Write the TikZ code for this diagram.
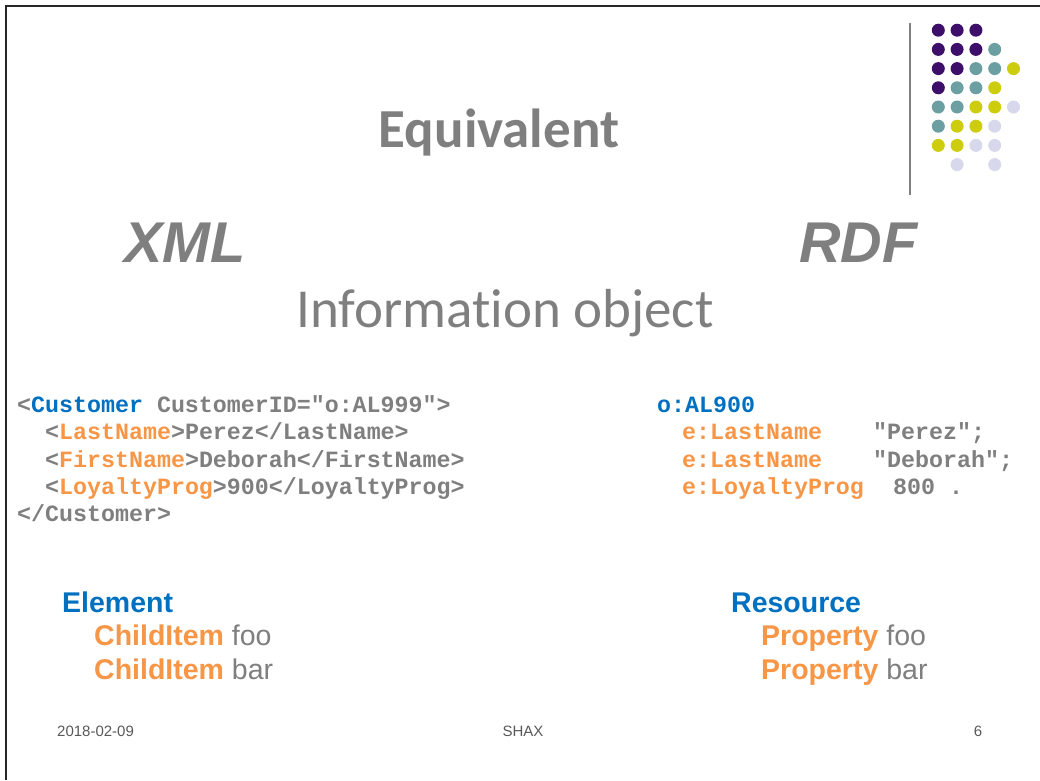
\documentclass[tikz,border=0pt]{standalone}
\usepackage{fontspec}
\setmainfont{Liberation Sans}
\setmonofont{Liberation Mono}
\newfontfamily\calibri[Ligatures={NoCommon}]{Carlito}

\definecolor{txtgrey}{HTML}{7F7F7F}
\definecolor{footgrey}{HTML}{595959}
\definecolor{keyblue}{HTML}{0070C0}
\definecolor{keyorange}{HTML}{F79646}
\definecolor{dotpurple}{HTML}{3D0F6B}
\definecolor{dotteal}{HTML}{6C9FA2}
\definecolor{dotyellow}{HTML}{CDCD0E}
\definecolor{dotlilac}{HTML}{D8D8EC}

\newcommand{\bl}[1]{\textcolor{keyblue}{#1}}
\newcommand{\og}[1]{\textcolor{keyorange}{#1}}

\begin{document}
\begin{tikzpicture}[x=1pt,y=-1pt,
  lbl/.style={inner sep=0pt, anchor=base west, text=txtgrey},
  headline/.style={lbl, anchor=base, font=\calibri\fontsize{55}{60}\selectfont},
  biglabel/.style={lbl, font=\bfseries\itshape\fontsize{57.5}{62}\selectfont},
  codeline/.style={lbl, font=\ttfamily\bfseries\fontsize{23.3}{27}\selectfont},
  termline/.style={lbl, font=\bfseries\fontsize{28.5}{32}\selectfont},
  footer/.style={inner sep=0pt, anchor=base, text=footgrey, font=\fontsize{15}{18}\selectfont},
  dot/.style={circle, inner sep=0pt, minimum size=13pt},
  rule/.style={line width=2.5pt, black!85}]

\useasboundingbox (0,0) rectangle (1040,780);
\fill[white] (0,0) rectangle (1040,780);

% slide frame (top and left edges)
\draw[rule] (1040,6) -- (6,6) -- (6,780);

% logo: separator line and dot grid
\draw[line width=2pt, gray] (910,23) -- (910,195);
\foreach \row [count=\r] in {{P,P,P,N,N},{P,P,P,T,N},{P,P,T,T,Y},{P,T,T,Y,N},
                             {T,T,Y,Y,L},{T,Y,Y,L,N},{Y,Y,L,L,N},{N,L,N,L,N}}{
  \foreach \k [count=\c] in \row {
    \pgfmathsetmacro{\cx}{919.5+18.8*\c}
    \pgfmathsetmacro{\cy}{11+19.2*\r}
    \if\k P\node[dot, fill=dotpurple] (d\r\c) at (\cx,\cy) {};\fi
    \if\k T\node[dot, fill=dotteal] (d\r\c) at (\cx,\cy) {};\fi
    \if\k Y\node[dot, fill=dotyellow] (d\r\c) at (\cx,\cy) {};\fi
    \if\k L\node[dot, fill=dotlilac] (d\r\c) at (\cx,\cy) {};\fi
  }
}

% headings
\node[headline, font=\calibri\bfseries\fontsize{55}{60}\selectfont] (title) at (499,147) {Equivalent};
\node[biglabel] (xml) at (124,262) {XML};
\node[biglabel] (rdf) at (799,262) {RDF};
\node[headline] (info) at (505,327) {Information object};

% XML serialisation
\node[codeline] (x1) at (17,412) {<\bl{Customer} CustomerID="o:AL999">};
\node[codeline] (x2) at (45,439) {<\og{LastName}>Perez</LastName>};
\node[codeline] (x3) at (45,467) {<\og{FirstName}>Deborah</FirstName>};
\node[codeline] (x4) at (45,494) {<\og{LoyaltyProg}>900</LoyaltyProg>};
\node[codeline] (x5) at (17,521) {</Customer>};

% RDF (Turtle) serialisation
\node[codeline] (r1) at (657,412) {\bl{o:AL900}};
\node[codeline] (r2) at (682,439) {\og{e:LastName}};
\node[codeline] (r3) at (682,467) {\og{e:LastName}};
\node[codeline] (r4) at (682,494) {\og{e:LoyaltyProg}};
\node[codeline] (v2) at (873,439) {"Perez";};
\node[codeline] (v3) at (873,467) {"Deborah";};
\node[codeline] (v4) at (893,494) {800 .};

% terminology
\node[termline] (elem) at (62,612) {\bl{Element}};
\node[termline] (ci1) at (94,645) {\og{ChildItem} {\mdseries foo}};
\node[termline] (ci2) at (94,679) {\og{ChildItem} {\mdseries bar}};
\node[termline] (res) at (731,612) {\bl{Resource}};
\node[termline] (pr1) at (761,645) {\og{Property} {\mdseries foo}};
\node[termline] (pr2) at (761,679) {\og{Property} {\mdseries bar}};

% footer
\node[footer, anchor=base west] (date) at (57,736) {2018-02-09};
\node[footer] (conf) at (523,736) {SHAX};
\node[footer] (page) at (978,736) {6};
\end{tikzpicture}
\end{document}
